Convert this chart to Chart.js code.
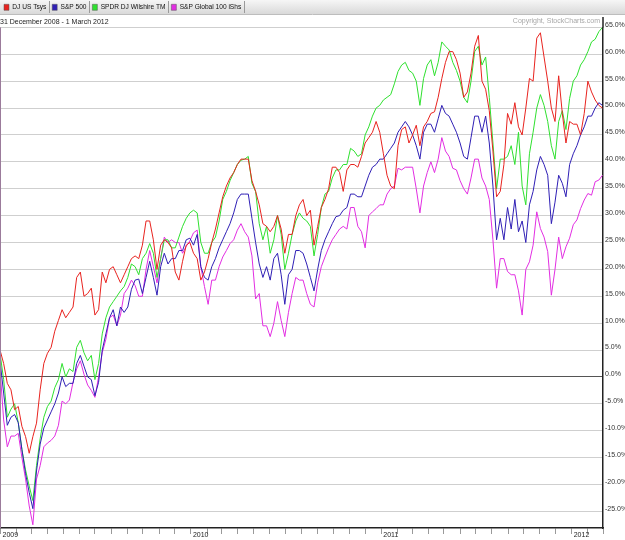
<!DOCTYPE html>
<html>
<head>
<meta charset="utf-8">
<script src="https://cdn.jsdelivr.net/npm/chart.js@4.4.1/dist/chart.umd.min.js"></script>
<style>
html,body{margin:0;padding:0;background:#fff;}
canvas{display:block;}
</style>
</head>
<body>
<canvas id="c" width="625" height="540"></canvas>
<script>
// ---- data (weekly closes, % change since 31 Dec 2008) ----
const seriesNames = ['DJ US Tsys', 'S&P 500', 'SPDR DJ Wilshire TM', 'S&P Global 100 iShs'];
const seriesColors = ['#e8231f', '#2f1fb5', '#2fe02f', '#e22ee2'];
const startDate = Date.UTC(2008, 11, 31);
const endDate = Date.UTC(2012, 2, 1);
const stepDays = 7;
const dateRangeText = '31 December 2008 - 1 March 2012';
const copyrightText = 'Copyright, StockCharts.com';
const yearLabels = ['2009', '2010', '2011', '2012'];

const djUsTsys = [
  5.0, 2.5, -1.2, -2.4, -6.1, -5.5, -9.2, -11.1, -14.2, -11.1, -8.6, -2.4, 2.5, 4.4, 5.5, 8.5, 10.5, 12.5, 11.0, 12.0, 13.0, 18.5, 19.5, 15.0, 15.5, 16.5, 11.5, 12.5, 19.5, 17.5, 20.0, 20.5, 19.0, 17.5,
  19.0, 20.5, 22.0, 22.5, 22.0, 24.5, 29.0, 29.0, 25.5, 20.0, 24.5, 25.5, 25.0, 24.0, 19.5, 18.0, 21.5, 24.5, 25.0, 23.0, 22.0, 18.0, 19.5, 22.0, 25.0, 27.5, 30.5, 33.5, 35.5, 37.0, 38.0, 39.5, 40.5,
  40.5, 40.5, 36.5, 34.5, 32.0, 28.5, 28.0, 27.0, 28.0, 30.0, 27.5, 23.0, 26.5, 26.5, 30.0, 32.0, 33.0, 30.0, 31.0, 24.5, 28.0, 31.5, 33.0, 35.0, 39.0, 39.0, 38.0, 34.5, 38.5, 39.5, 39.5, 39.0, 41.0,
  43.5, 44.5, 45.5, 47.5, 45.5, 41.5, 37.5, 35.5, 35.0, 43.0, 46.0, 46.5, 43.5, 45.0, 46.8, 43.0, 46.5, 47.5, 49.0, 49.3, 52.0, 55.5, 58.5, 60.5, 60.5, 59.0, 56.5, 52.0, 53.0, 56.5, 61.5, 63.5, 55.0,
  53.5, 49.5, 42.0, 33.5, 34.5, 39.5, 49.0, 47.0, 51.0, 46.5, 45.0, 50.0, 55.5, 55.0, 63.0, 64.0, 59.5, 55.0, 50.0, 47.5, 56.0, 49.0, 43.5, 47.5, 47.0, 47.0, 45.0, 49.0, 55.0, 53.0, 51.5, 50.5, 50.0
];
const sp500 = [
  3.0, -3.0, -9.0, -7.5, -7.0, -8.5, -13.5, -18.0, -21.5, -24.5, -17.5, -12.5, -9.5, -8.0, -6.5, -5.0, -3.0, 0.0, -1.8, -1.2, -1.2, 2.5, 4.0, 2.0, 0.0, -0.5, -3.5, -1.0, 5.0, 8.0, 11.0, 12.5, 9.5, 13.0,
  12.0, 13.0, 16.3, 18.0, 18.2, 15.5, 18.5, 21.5, 18.5, 15.2, 20.5, 23.0, 21.0, 22.0, 22.0, 23.5, 23.5, 25.5, 25.8, 24.5, 26.5, 20.5, 18.5, 18.0, 20.5, 22.0, 24.0, 25.5, 27.0, 28.5, 30.5, 33.0, 34.0,
  34.0, 34.0, 29.5, 25.0, 21.0, 18.5, 20.5, 18.0, 22.0, 23.0, 19.0, 13.5, 19.0, 20.0, 23.5, 23.5, 23.0, 21.0, 18.5, 16.0, 20.0, 23.5, 25.5, 27.0, 28.5, 29.8, 30.0, 31.0, 31.5, 34.0, 34.0, 33.5, 33.5,
  35.5, 37.5, 39.0, 39.5, 40.5, 40.5, 41.5, 42.5, 43.5, 45.5, 46.5, 47.5, 46.5, 45.0, 43.0, 40.5, 45.5, 47.0, 47.0, 45.5, 48.0, 50.5, 49.0, 48.5, 47.0, 45.5, 43.5, 41.0, 40.5, 44.5, 48.5, 48.5, 45.5,
  48.5, 43.5, 35.5, 25.5, 29.5, 25.5, 31.5, 27.5, 33.0, 27.0, 29.0, 25.0, 32.0, 34.5, 38.5, 41.0, 39.5, 37.5, 28.5, 32.5, 37.5, 36.0, 33.5, 39.5, 41.5, 43.0, 45.0, 46.5, 48.5, 48.5, 50.0, 51.0, 50.5
];
const spdrWilshire = [
  4.4, -0.5, -7.5, -6.0, -5.0, -8.5, -13.5, -17.3, -20.3, -23.0, -16.5, -11.5, -7.5, -5.5, -4.5, -2.0, -0.5, 2.5, 0.0, 1.5, 1.0, 5.5, 6.8, 4.5, 3.0, 4.0, -0.5, 2.5, 8.0, 11.0, 13.0, 14.0, 15.0, 16.0,
  16.8, 18.5, 21.0, 20.5, 19.0, 22.0, 23.0, 24.8, 23.0, 18.5, 22.0, 25.5, 25.5, 24.0, 24.0, 26.0, 28.0, 29.5, 30.5, 31.0, 30.5, 25.0, 23.0, 23.0, 25.0, 26.0, 29.0, 33.0, 34.5, 36.5, 38.0, 39.5, 40.3,
  40.5, 41.0, 36.0, 34.5, 28.5, 25.5, 28.0, 23.0, 25.5, 30.0, 26.5, 20.0, 23.0, 26.5, 29.0, 30.5, 29.5, 29.0, 28.0, 22.5, 26.5, 31.5, 34.0, 34.5, 37.0, 38.5, 38.5, 39.5, 39.5, 42.5, 42.0, 41.0, 41.5,
  45.0, 46.5, 48.5, 50.0, 50.5, 51.5, 52.0, 52.5, 54.5, 56.8, 58.0, 58.5, 57.0, 56.5, 55.0, 50.5, 55.5, 58.0, 59.0, 56.0, 58.5, 62.3, 61.5, 60.8, 58.5, 57.0, 55.0, 52.0, 51.0, 55.0, 60.5, 61.5, 58.0,
  59.5, 52.0, 43.5, 35.0, 40.5, 40.5, 41.0, 43.0, 39.5, 45.5, 35.5, 32.0, 41.5, 45.5, 50.0, 52.5, 50.5, 47.5, 43.0, 40.5, 47.5, 49.5, 46.0, 51.8, 55.0, 56.0, 58.0, 59.0, 60.5, 62.3, 62.8, 64.2, 65.0
];
const spGlobal100 = [
  1.5, -8.0, -13.0, -11.0, -11.0, -10.5, -15.0, -19.0, -24.0, -27.5, -19.0, -16.5, -13.0, -12.3, -11.8, -11.0, -9.0, -4.5, -5.0, -4.3, -1.0, 1.5, 3.0, 0.5, -1.5, -2.5, -3.8, 0.0, 4.5, 7.0, 11.0, 11.5, 9.5, 11.5,
  15.5, 16.5, 18.0, 17.0, 15.0, 15.0, 20.0, 23.5, 20.5, 17.5, 22.0, 26.0, 25.0, 25.5, 25.0, 25.0, 23.0, 24.3, 25.3, 26.8, 27.3, 20.5, 16.8, 13.5, 18.0, 18.0, 20.5, 22.3, 23.5, 24.8, 25.5, 27.3, 28.5,
  27.0, 26.0, 22.5, 14.5, 15.5, 9.5, 9.5, 7.5, 10.0, 14.0, 10.5, 7.5, 12.0, 15.5, 18.5, 18.0, 18.0, 15.5, 13.5, 13.0, 17.5, 20.5, 22.3, 24.0, 25.5, 26.5, 27.5, 28.0, 27.5, 31.5, 31.5, 28.0, 27.0,
  24.0, 30.0, 30.7, 31.3, 32.0, 32.0, 34.0, 35.0, 35.5, 38.8, 38.5, 39.0, 39.0, 39.0, 35.0, 30.5, 35.5, 38.0, 40.0, 38.0, 40.5, 44.5, 42.0, 41.0, 38.8, 38.5, 36.5, 35.0, 34.0, 37.0, 40.5, 40.5, 37.0,
  35.5, 33.0, 25.5, 16.5, 22.0, 22.0, 19.6, 19.0, 19.0, 16.0, 11.5, 20.0, 21.4, 24.5, 30.7, 27.6, 26.0, 23.3, 15.2, 20.0, 26.0, 22.0, 24.2, 25.8, 28.3, 29.2, 31.3, 32.9, 34.1, 33.8, 36.3, 36.6, 37.5
];
const seriesValues = [djUsTsys, sp500, spdrWilshire, spGlobal100];

// ---- helpers ----
const DAY = 86400000;
const totalDays = (endDate - startDate) / DAY;
const monthTicks = [];
for (let y = 2009; y <= 2012; y++) {
  for (let m = 0; m < 12; m++) {
    const d = (Date.UTC(y, m, 1) - startDate) / DAY;
    if (d <= totalDays) monthTicks.push({ value: d, label: m === 0 ? yearLabels[y - 2009] : '' });
  }
}
const FONT = 'Liberation Sans, Arial, Helvetica, sans-serif';

const datasets = seriesNames.map((name, i) => ({
  label: name,
  data: seriesValues[i].map((v, k) => ({ x: k * stepDays, y: v })),
  borderColor: seriesColors[i],
  backgroundColor: seriesColors[i],
  borderWidth: 1,
  pointRadius: 0,
  tension: 0,
  fill: false
}));

const headerPlugin = {
  id: 'header',
  beforeDraw(chart) {
    const ctx = chart.ctx;
    ctx.save();
    ctx.fillStyle = '#ffffff';
    ctx.fillRect(0, 0, chart.width, chart.height);
    const g = ctx.createLinearGradient(0, 0, 0, 14);
    g.addColorStop(0, '#f6f6f6');
    g.addColorStop(1, '#d9d9d9');
    ctx.fillStyle = g;
    ctx.fillRect(0, 0, chart.width, 14);
    ctx.strokeStyle = '#bdbdbd';
    ctx.lineWidth = 1;
    ctx.beginPath(); ctx.moveTo(0, 14.5); ctx.lineTo(chart.width, 14.5); ctx.stroke();
    ctx.restore();
  },
  afterDraw(chart) {
    const ctx = chart.ctx;
    const area = chart.chartArea;
    ctx.save();
    const boxes = chart.legend && chart.legend.legendHitBoxes ? chart.legend.legendHitBoxes : [];
    ctx.strokeStyle = '#9a9a9a';
    ctx.lineWidth = 1;
    boxes.forEach(b => {
      const x = Math.round(b.left + b.width + 1) + 0.5;
      ctx.beginPath(); ctx.moveTo(x, 1); ctx.lineTo(x, 13); ctx.stroke();
    });
    ctx.fillStyle = '#a8a8a8';
    ctx.font = '7px ' + FONT;
    ctx.textAlign = 'right';
    ctx.textBaseline = 'middle';
    ctx.fillText(copyrightText, area.right - 3, 21.5);
    ctx.strokeStyle = '#222';
    ctx.lineWidth = 1.5;
    ctx.beginPath(); ctx.moveTo(area.right, 17); ctx.lineTo(area.right, area.top); ctx.stroke();
    ctx.strokeStyle = '#9b7b9b';
    ctx.lineWidth = 1;
    ctx.beginPath(); ctx.moveTo(0.5, area.top); ctx.lineTo(0.5, area.bottom); ctx.stroke();
    ctx.restore();
  }
};

new Chart(document.getElementById('c'), {
  type: 'line',
  data: { datasets },
  plugins: [headerPlugin],
  options: {
    responsive: false,
    animation: false,
    devicePixelRatio: 1,
    layout: { padding: 0 },
    plugins: {
      tooltip: { enabled: false },
      legend: {
        display: true,
        position: 'top',
        align: 'start',
        weight: 3000,
        maxHeight: 14,
        labels: {
          boxWidth: 5,
          boxHeight: 6,
          padding: 4,
          color: '#111',
          font: { family: FONT, size: 6.6 },
          generateLabels(chart) {
            const items = Chart.defaults.plugins.legend.labels.generateLabels(chart);
            items.forEach((it, i) => {
              it.text = it.text + ' ';
              it.fillStyle = seriesColors[i];
              it.strokeStyle = '#555';
              it.lineWidth = 0.5;
            });
            return items;
          }
        }
      },
      subtitle: {
        display: true,
        text: dateRangeText,
        align: 'start',
        position: 'top',
        weight: 100,
        color: '#222',
        font: { family: FONT, size: 7 },
        padding: { top: 3.5, bottom: 1.5 }
      },
      title: { display: false }
    },
    scales: {
      x: {
        type: 'linear',
        min: 0,
        max: totalDays,
        afterBuildTicks(scale) { scale.ticks = monthTicks.map(t => ({ value: t.value })); },
        afterFit(scale) { scale.height = 12; },
        ticks: {
          autoSkip: false,
          maxRotation: 0,
          minRotation: 0,
          align: 'start',
          padding: -3,
          labelOffset: 2,
          color: '#222',
          font: { family: FONT, size: 7 },
          callback(value) {
            const t = monthTicks.find(m => Math.abs(m.value - value) < 0.01);
            return t ? t.label : '';
          }
        },
        grid: { drawOnChartArea: false, drawTicks: true, tickLength: 6, color: '#9a9a9a' },
        border: { display: true, color: '#222', width: 1.5 }
      },
      y: {
        type: 'linear',
        position: 'right',
        min: -28.1,
        max: 65,
        afterFit(scale) { scale.width = 22; },
        ticks: {
          stepSize: 5,
          includeBounds: false,
          padding: 2,
          labelOffset: -2.5,
          color: '#333',
          font: { family: FONT, size: 7 },
          callback(v) { return v.toFixed(1) + '%'; }
        },
        grid: {
          drawTicks: false,
          lineWidth: 1,
          color(c) { return c.tick && c.tick.value === 0 ? '#555555' : '#cfcfcf'; }
        },
        border: { display: true, color: '#222', width: 1.5 }
      }
    }
  }
});
</script>
</body>
</html>
